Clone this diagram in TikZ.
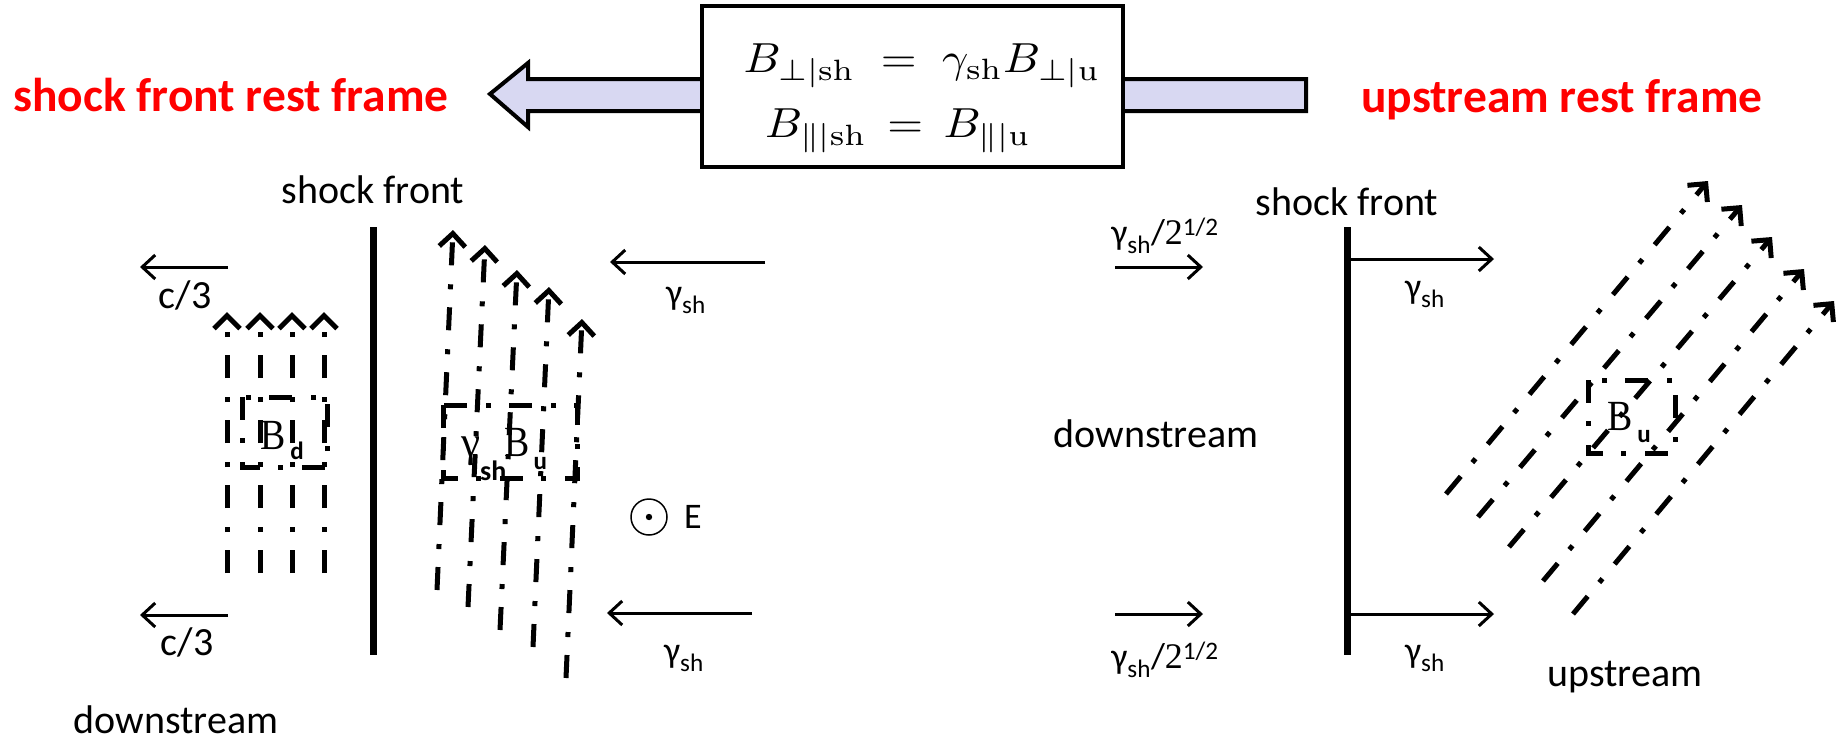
\documentclass[tikz,border=0pt]{standalone}
\usepackage{amsmath}
\usepackage{graphicx}
\usepackage[no-math]{fontspec}
\setmainfont{Carlito}
\newfontfamily\tms{Liberation Serif}
\usetikzlibrary{arrows.meta}
\definecolor{lav}{RGB}{216,216,242}
\newcommand{\Bsym}{{\tms\fontsize{43}{45}\selectfont\scalebox{0.88}[1]{B}}}
\newcommand{\gsym}{{\tms\fontsize{43}{45}\selectfont γ}}
\newcommand{\subf}[2]{\raisebox{#1}{\bfseries\fontsize{25}{27}\selectfont #2}}
\tikzset{
  fieldline/.style={line width=5pt, dash pattern=on 23pt off 18pt on 5pt off 19pt,
     -{Straight Barb[length=13pt,width=26pt,line width=5pt]}},
  fieldbox/.style={line width=5pt, dash pattern=on 23pt off 18pt on 5pt off 19pt},
  velarrow/.style={line width=3pt, -{Straight Barb[length=13pt,width=24pt,line width=3pt]}},
  shockline/.style={line width=7pt},
  lbl/.style={inner sep=0pt, font=\fontsize{40}{44}\selectfont},
  vlbl/.style={inner sep=0pt, font=\fontsize{36}{40}\selectfont},
  title/.style={inner sep=0pt, anchor=base, text=red, font=\bfseries\fontsize{47.5}{50}\selectfont},
  blbl/.style={inner sep=0pt, anchor=base west},
  eqn/.style={inner sep=0pt}
}
\begin{document}
\begin{tikzpicture}[x=1pt,y=-1pt]
\useasboundingbox (0,0) rectangle (1840,742);
% header
\draw[line width=4pt, fill=lav] (490,94) -- (528,63) -- (528,79) -- (1306,79) -- (1306,111) -- (528,111) -- (528,127) -- cycle;
\node[draw, line width=4pt, fill=white, minimum width=421pt, minimum height=161pt, inner sep=0pt] (eqbox) at (912,86.5) {};
\node[eqn] (eq1) at (922,66) {\scalebox{4.6}[4.2]{$B_{\perp|\mathrm{sh}}\;=\;\gamma_{\mathrm{sh}}B_{\perp|\mathrm{u}}$}};
\node[eqn] (eq2) at (898,131) {\scalebox{4.6}[4.2]{$B_{\parallel|\mathrm{sh}}\,=\,B_{\parallel|\mathrm{u}}$}};
\node[title] (tleft) at (231,111) {shock front rest frame};
\node[title] (tright) at (1562,112) {upstream rest frame};

% ---------- left panel ----------
\node[lbl] (sfl) at (373,190) {shock front};
\coordinate (sla) at (373,227); \coordinate (slb) at (373,655);
\draw[shockline] (sla) -- (slb);
\coordinate (ca1) at (228,267); \coordinate (cb1) at (140,267);
\draw[velarrow] (ca1) -- (cb1);
\node[lbl, anchor=base] (c3a) at (185,308) {c/3};
\coordinate (ca2) at (228,615); \coordinate (cb2) at (140,615);
\draw[velarrow] (ca2) -- (cb2);
\node[lbl, anchor=base] (c3b) at (187,655) {c/3};
\node[lbl] (dsl) at (176,720) {downstream};

% B_d field lines
\foreach \x [count=\i] in {227,260,292,324} {
  \coordinate (d\i a) at (\x,573); \coordinate (d\i b) at (\x,312);
  \draw[fieldline] (d\i a) -- (d\i b);
}
\draw[fieldbox] (242,397) rectangle (327,467);
\node[blbl] (bd) at (260,449) {\Bsym\hspace{5pt}\subf{-10pt}{d}};

% gamma B_u field lines (tilted)
\coordinate (u1a) at (437,590); \coordinate (u1b) at (453,230);
\coordinate (u2a) at (468,607); \coordinate (u2b) at (485,245);
\coordinate (u3a) at (500,630); \coordinate (u3b) at (517,270);
\coordinate (u4a) at (533,647); \coordinate (u4b) at (549,287);
\coordinate (u5a) at (566,678); \coordinate (u5b) at (582,319);
\foreach \i in {1,...,5} { \draw[fieldline] (u\i a) -- (u\i b); }
\draw[fieldbox] (443,405) rectangle (577,478);
\node[blbl] (gbu) at (461,456) {\gsym\subf{-24pt}{\fontsize{28}{30}\selectfont sh}\hspace{-2pt}\Bsym\hspace{4pt}\subf{-13pt}{u}};

% velocity arrows right of shock
\coordinate (ga1) at (765,262); \coordinate (gb1) at (610,262);
\draw[velarrow] (ga1) -- (gb1);
\node[vlbl] (g1) at (686,300) {γ$_{\text{sh}}$};
\coordinate (ga2) at (752,613); \coordinate (gb2) at (607,613);
\draw[velarrow] (ga2) -- (gb2);
\node[vlbl] (g2) at (684,658) {γ$_{\text{sh}}$};

% E field out of page
\node[circle, draw, line width=1.5pt, minimum size=36pt, inner sep=0pt] (ecirc) at (649,517) {};
\fill (ecirc.center) circle (3.2pt);
\node[vlbl, anchor=west] (elbl) at (684,517) {E};

% ---------- right panel ----------
\node[lbl] (sfr) at (1347,202) {shock front};
\coordinate (sra) at (1347,227); \coordinate (srb) at (1347,655);
\draw[shockline] (sra) -- (srb);
\coordinate (ra1) at (1350,259); \coordinate (rb1) at (1494,259);
\draw[velarrow] (ra1) -- (rb1);
\node[vlbl] (rg1) at (1425,294) {γ$_{\text{sh}}$};
\coordinate (ra2) at (1350,614); \coordinate (rb2) at (1494,614);
\draw[velarrow] (ra2) -- (rb2);
\node[vlbl] (rg2) at (1425,658) {γ$_{\text{sh}}$};
\coordinate (la1) at (1115,267); \coordinate (lb1) at (1203,267);
\draw[velarrow] (la1) -- (lb1);
\node[vlbl] (lg1) at (1165,236) {γ$_{\text{sh}}$/{\tms 2}$^{\text{1/2}}$};
\coordinate (la2) at (1115,614); \coordinate (lb2) at (1203,614);
\draw[velarrow] (la2) -- (lb2);
\node[vlbl] (lg2) at (1165,660) {γ$_{\text{sh}}$/{\tms 2}$^{\text{1/2}}$};
\node[lbl] (dsr) at (1156,434) {downstream};
\node[lbl] (usr) at (1625,677) {upstream};

% diagonal B_u lines
\coordinate (v1a) at (1446,494); \coordinate (v1b) at (1708,181);
\coordinate (v2a) at (1478,517); \coordinate (v2b) at (1742,205);
\coordinate (v3a) at (1509,547); \coordinate (v3b) at (1772,237);
\coordinate (v4a) at (1543,581); \coordinate (v4b) at (1804,269);
\coordinate (v5a) at (1573,614); \coordinate (v5b) at (1834,301);
\foreach \i in {1,...,5} { \draw[fieldline] (v\i a) -- (v\i b); }
\draw[fieldbox] (1588,380) rectangle (1675,453);
\node[blbl] (bu) at (1607,430) {\Bsym\hspace{5pt}\subf{-12pt}{u}};
\end{tikzpicture}
\end{document}
